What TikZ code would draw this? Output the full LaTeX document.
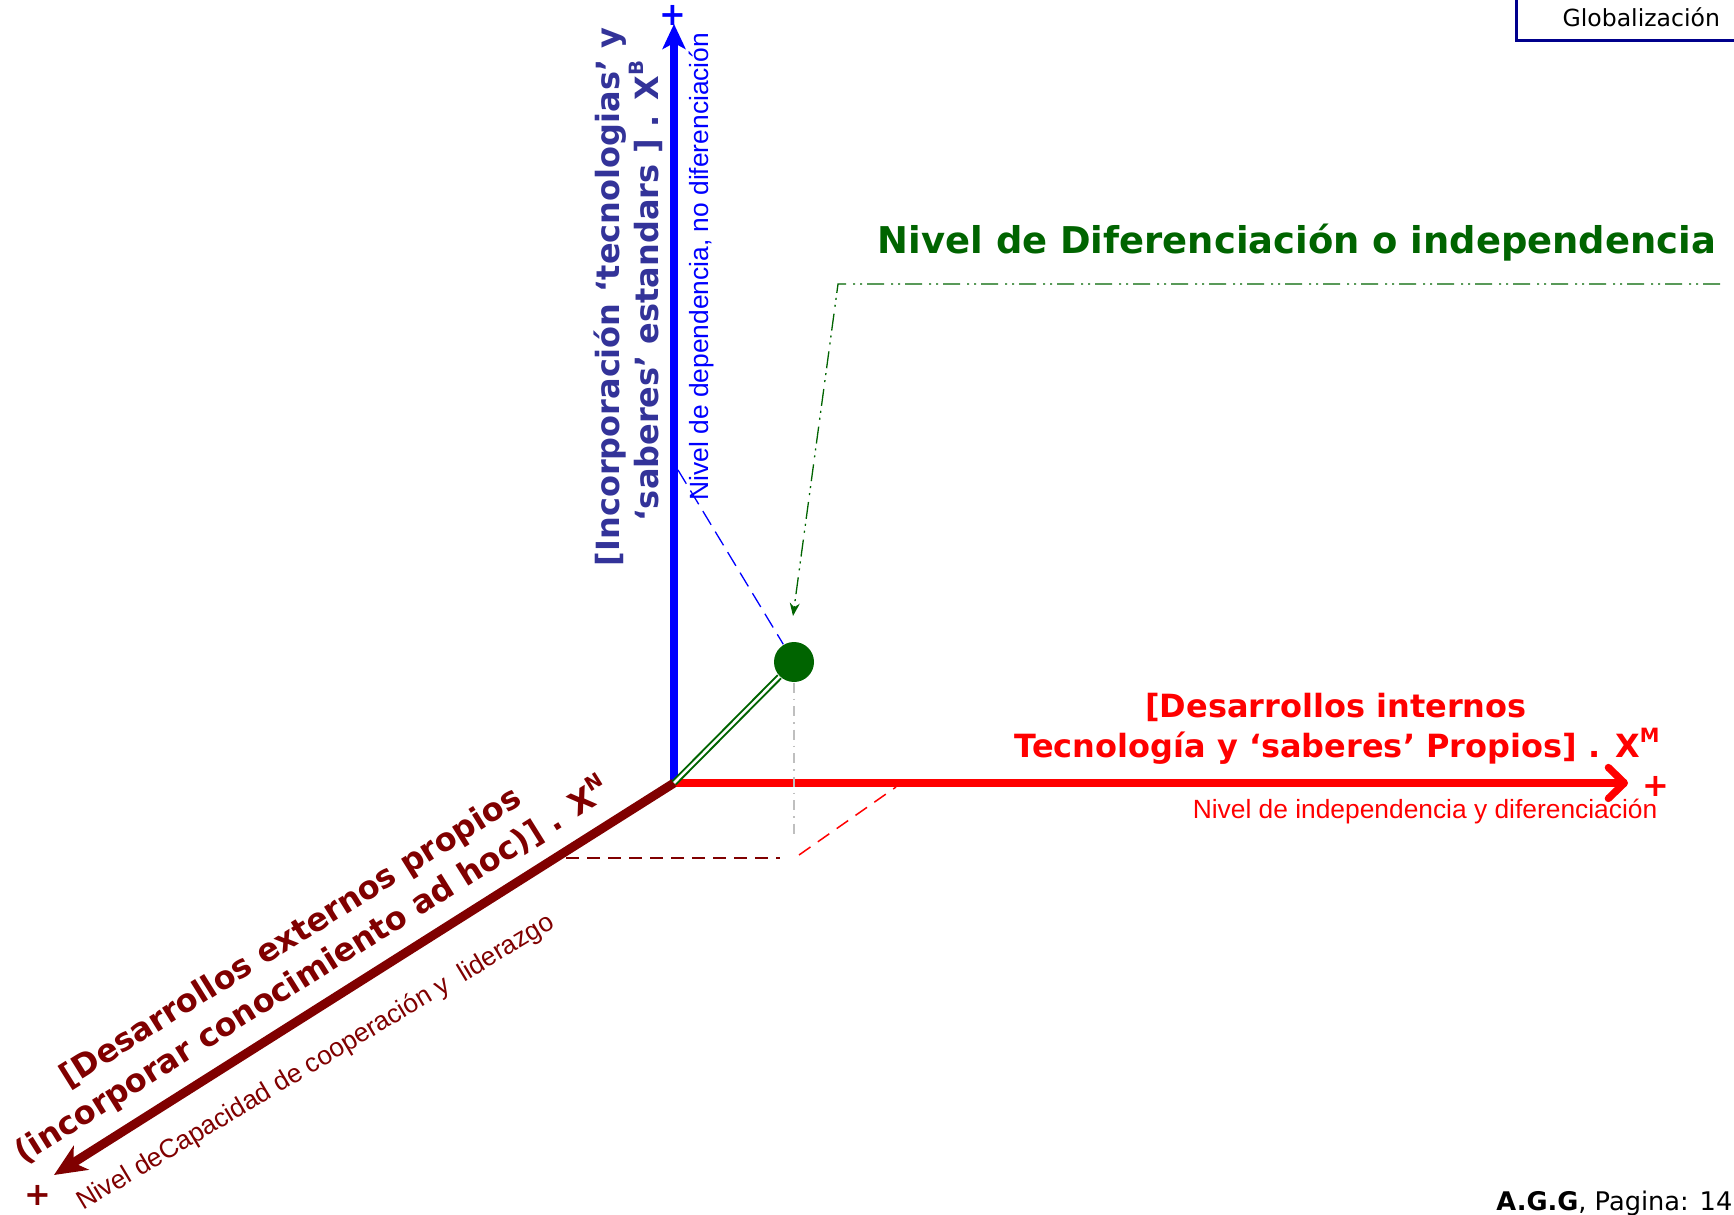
\documentclass[tikz,border=0pt]{standalone}
\usepackage{fontspec}
\usepackage{tikz}
\usetikzlibrary{arrows.meta}
\newfontfamily\verdana{DejaVu Sans}
\newfontfamily\arial{Liberation Sans}
\definecolor{azul}{RGB}{0,0,255}
\definecolor{azultxt}{RGB}{51,51,153}
\definecolor{rojo}{RGB}{255,0,0}
\definecolor{granate}{RGB}{128,0,0}
\definecolor{verde}{RGB}{0,100,0}
\definecolor{marino}{RGB}{0,0,140}
\colorlet{gris}{black!25}
\newcommand{\sube}[1]{\raisebox{0.45em}{\fontsize{5.6}{6}\selectfont #1}}
\tikzset{
	ejeB/.style={line width=0.73mm,azul,-{Stealth[length=2.5mm,width=2.3mm,inset=0.6mm]}},
	ejeM/.style={line width=0.73mm,rojo,-{Straight Barb[length=1.6mm,width=3.1mm,round]}},
	ejeN/.style={line width=0.9mm,granate,-{Stealth[length=3.2mm,width=2.8mm,inset=0.9mm]}},
	bola/.style={circle,fill=verde,inner sep=0pt,minimum size=4mm},
	enlace/.style={verde,line width=0.2mm,double=white,double distance=0.25mm},
	guia/.style={verde,line width=0.13mm,dash pattern=on 1.7mm off 0.5mm on 0.2mm off 0.5mm on 0.2mm off 0.7mm,-{Stealth[length=1.3mm,width=1mm]}},
	proyB/.style={azul,line width=0.13mm,dash pattern=on 1.6mm off 0.8mm},
	proyM/.style={rojo,line width=0.15mm,dash pattern=on 1.4mm off 0.9mm},
	proyN/.style={granate,line width=0.17mm,dash pattern=on 1.3mm off 0.8mm},
	altura/.style={gris,line width=0.15mm,dash pattern=on 1mm off 0.6mm on 0.15mm off 0.6mm},
	etiq/.style={inner sep=0pt,font=\verdana\bfseries\fontsize{9.1}{11}\selectfont},
	nota/.style={inner sep=0pt,font=\arial\fontsize{7.5}{9}\selectfont},
	titulo/.style={inner sep=0pt,verde,font=\verdana\bfseries\fontsize{10.5}{12}\selectfont},
	mas/.style={inner sep=0pt,font=\verdana\bfseries\fontsize{9.1}{11}\selectfont},
	caja/.style={draw=marino,line width=0.25mm,minimum width=25mm,minimum height=4.6mm,inner sep=0pt,font=\verdana\fontsize{6.7}{8}\selectfont},
	pie/.style={inner sep=0pt,font=\verdana\fontsize{7.3}{8}\selectfont},
}
\begin{document}
\begin{tikzpicture}[x=0.1mm,y=-0.1mm]
\useasboundingbox (0,0) rectangle (1734,1215);
%NODOS
\coordinate (o) at (674,783);
\coordinate (xb) at (674,24);
\coordinate (xm) at (1628,783);
\coordinate (xn) at (54,1175);
\node[bola] (p) at (794,662) {};
\coordinate (bp) at (678,470);
\coordinate (np) at (566,858);
\coordinate (q1) at (780,858);
\coordinate (q2) at (799,855);
\coordinate (mp) at (896,787);
\coordinate (pb) at (794,837);
\coordinate (g1) at (1720,284);
\coordinate (g2) at (838,284);
\coordinate (gt) at (793,616);
%EJES
\draw[ejeB] (o) -- (xb);
\draw[ejeM] (o) -- (xm);
\draw[ejeN] (o) -- (xn);
\node[mas,azul] (mb) at (673,15) {+};
\node[mas,rojo] (mm) at (1656,786) {+};
\node[mas,granate] (mn) at (38,1195) {+};
% LINEAS DISCONTINUAS
\draw[proyB] (bp) -- (p);
\draw[proyN] (np) -- (q1);
\draw[proyM] (q2) -- (mp);
\draw[altura] (p) -- (pb);
\draw[guia] (g1) -- (g2) -- (gt);
% PUNTO
\draw[enlace] (o) -- (p);
% ETIQUETAS
\node[etiq,azultxt,rotate=90,anchor=base] (lb1) at (619,297) {[Incorporación ‘tecnologias’ y};
\node[etiq,azultxt,rotate=90,anchor=base] (lb2) at (658,291) {‘saberes’ estandars ] . X\sube{B}};
\node[nota,azul,rotate=90,anchor=base west] (nb) at (708,501) {Nivel de dependencia, no diferenciación};
\node[titulo,anchor=base] (tit) at (1297,254) {Nivel de Diferenciación o independencia};
\node[etiq,rojo,anchor=base] (lm1) at (1336,717) {[Desarrollos internos};
\node[etiq,rojo,anchor=base] (lm2) at (1337,757) {Tecnología y ‘saberes’ Propios] . X\sube{M}};
\node[nota,rojo,anchor=base east] (nm) at (1658,818) {Nivel de independencia y diferenciación};
\node[etiq,granate,rotate=32,anchor=base] (ln1) at (296,946) {[Desarrollos externos propios};
\node[etiq,granate,rotate=32,anchor=base] (ln2) at (318,980) {(incorporar conocimiento ad hoc)] . X\sube{N}};
\node[nota,granate,rotate=31,anchor=base west] (nn) at (83,1211) {Nivel deCapacidad de cooperación y\ \ liderazgo};
\node[caja,anchor=south west] (glob) at (1515,42) {Globalización};
\node[pie,anchor=base east] (pag) at (1733,1210) {\textbf{A.G.G}, Pagina: 14};
\end{tikzpicture}
\end{document}
